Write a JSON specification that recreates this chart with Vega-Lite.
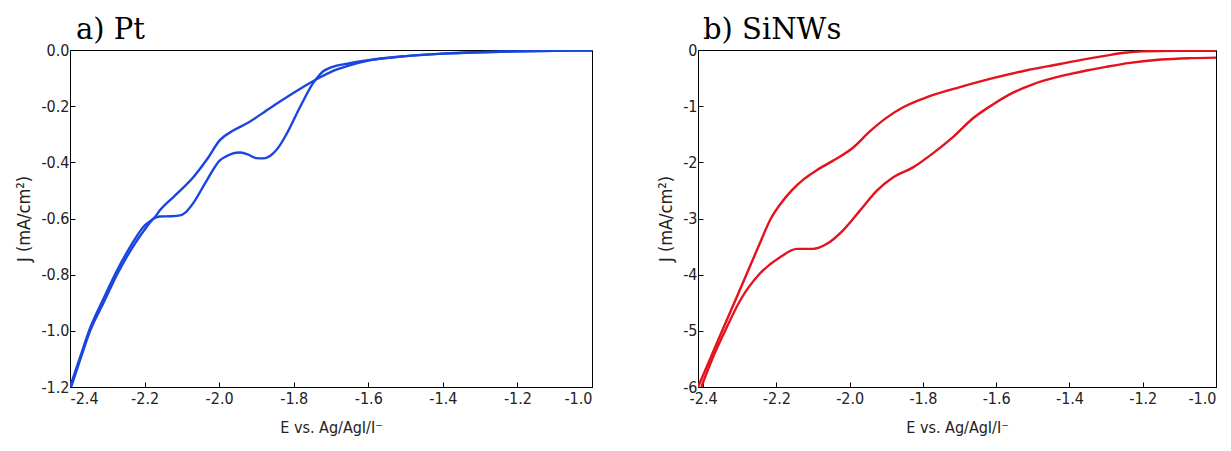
{
  "$schema": "https://vega.github.io/schema/vega-lite/v6.json",
  "background": "white",
  "padding": {"left": 15, "top": 15, "right": 5, "bottom": 5},
  "bounds": "flush",
  "spacing": 106,
  "config": {
    "view": {"stroke": "black", "strokeWidth": 1},
    "axis": {
      "grid": false, "domainColor": "black", "tickColor": "black", "tickSize": -5,
      "labelFont": "DejaVu Sans Condensed, Liberation Sans Narrow, Liberation Sans",
      "labelFontSize": 16, "labelColor": "#222",
      "titleFont": "DejaVu Sans Condensed, Liberation Sans Narrow, Liberation Sans",
      "titleFontSize": 16, "titleFontWeight": "normal", "titleColor": "#222"
    },
    "axisX": {"labelPadding": 8, "titlePadding": 13},
    "axisY": {"labelPadding": 6, "titlePadding": 7, "titleFontSize": 18},
    "title": {"font": "DejaVu Serif", "fontSize": 29, "fontWeight": "normal", "anchor": "start", "frame": "group", "color": "black", "offset": -3}
  },
  "hconcat": [
    {
      "width": 522, "height": 337,
      "title": {"text": "a) Pt", "dx": 6},
      "data": {"values": [
        {"branch": "lower", "E": -1.0, "J": -0.002},
        {"branch": "lower", "E": -1.1, "J": -0.003},
        {"branch": "lower", "E": -1.2, "J": -0.005},
        {"branch": "lower", "E": -1.3, "J": -0.008},
        {"branch": "lower", "E": -1.4, "J": -0.013},
        {"branch": "lower", "E": -1.5, "J": -0.022},
        {"branch": "lower", "E": -1.6, "J": -0.036},
        {"branch": "lower", "E": -1.65, "J": -0.047},
        {"branch": "lower", "E": -1.7, "J": -0.062},
        {"branch": "lower", "E": -1.72, "J": -0.075},
        {"branch": "lower", "E": -1.735, "J": -0.095},
        {"branch": "lower", "E": -1.748, "J": -0.118},
        {"branch": "lower", "E": -1.783, "J": -0.203},
        {"branch": "lower", "E": -1.818, "J": -0.296},
        {"branch": "lower", "E": -1.84, "J": -0.345},
        {"branch": "lower", "E": -1.855, "J": -0.368},
        {"branch": "lower", "E": -1.882, "J": -0.386},
        {"branch": "lower", "E": -1.9, "J": -0.385},
        {"branch": "lower", "E": -1.925, "J": -0.371},
        {"branch": "lower", "E": -1.945, "J": -0.365},
        {"branch": "lower", "E": -1.963, "J": -0.368},
        {"branch": "lower", "E": -1.98, "J": -0.378},
        {"branch": "lower", "E": -1.998, "J": -0.393},
        {"branch": "lower", "E": -2.033, "J": -0.464},
        {"branch": "lower", "E": -2.07, "J": -0.546},
        {"branch": "lower", "E": -2.09, "J": -0.578},
        {"branch": "lower", "E": -2.105, "J": -0.589},
        {"branch": "lower", "E": -2.13, "J": -0.592},
        {"branch": "lower", "E": -2.159, "J": -0.593},
        {"branch": "lower", "E": -2.175, "J": -0.6},
        {"branch": "lower", "E": -2.2, "J": -0.64},
        {"branch": "lower", "E": -2.247, "J": -0.735},
        {"branch": "lower", "E": -2.274, "J": -0.8},
        {"branch": "lower", "E": -2.31, "J": -0.9},
        {"branch": "lower", "E": -2.346, "J": -1.0},
        {"branch": "lower", "E": -2.372, "J": -1.1},
        {"branch": "lower", "E": -2.397, "J": -1.2},
        {"branch": "upper", "E": -2.4, "J": -1.2},
        {"branch": "upper", "E": -2.372, "J": -1.09},
        {"branch": "upper", "E": -2.346, "J": -0.99},
        {"branch": "upper", "E": -2.31, "J": -0.885},
        {"branch": "upper", "E": -2.274, "J": -0.785},
        {"branch": "upper", "E": -2.247, "J": -0.72},
        {"branch": "upper", "E": -2.2, "J": -0.625},
        {"branch": "upper", "E": -2.172, "J": -0.595},
        {"branch": "upper", "E": -2.159, "J": -0.571},
        {"branch": "upper", "E": -2.12, "J": -0.52},
        {"branch": "upper", "E": -2.07, "J": -0.454},
        {"branch": "upper", "E": -2.033, "J": -0.39},
        {"branch": "upper", "E": -1.998, "J": -0.321},
        {"branch": "upper", "E": -1.96, "J": -0.285},
        {"branch": "upper", "E": -1.925, "J": -0.261},
        {"branch": "upper", "E": -1.864, "J": -0.207},
        {"branch": "upper", "E": -1.802, "J": -0.154},
        {"branch": "upper", "E": -1.76, "J": -0.12},
        {"branch": "upper", "E": -1.73, "J": -0.098},
        {"branch": "upper", "E": -1.7, "J": -0.078},
        {"branch": "upper", "E": -1.65, "J": -0.055},
        {"branch": "upper", "E": -1.6, "J": -0.038},
        {"branch": "upper", "E": -1.5, "J": -0.022},
        {"branch": "upper", "E": -1.4, "J": -0.013},
        {"branch": "upper", "E": -1.3, "J": -0.008},
        {"branch": "upper", "E": -1.2, "J": -0.005},
        {"branch": "upper", "E": -1.1, "J": -0.003},
        {"branch": "upper", "E": -1.0, "J": -0.002}
      ]},
      "mark": {"type": "line", "color": "#1a46e0", "strokeWidth": 2.4, "interpolate": "monotone", "clip": true},
      "encoding": {
        "x": {"field": "E", "type": "quantitative",
              "scale": {"domain": [-2.4, -1.0], "nice": false, "zero": false},
              "axis": {"values": [-2.4, -2.2, -2.0, -1.8, -1.6, -1.4, -1.2, -1.0], "format": ".1f",
                       "labelExpr": "replace(datum.label, '\u2212', '-')", "title": "E vs. Ag/AgI/I\u207b"}},
        "y": {"field": "J", "type": "quantitative",
              "scale": {"domain": [-1.2, 0.0], "nice": false, "zero": false},
              "axis": {"values": [-1.2, -1.0, -0.8, -0.6, -0.4, -0.2, 0.0], "format": ".1f",
                       "labelExpr": "replace(datum.label, '\u2212', '-')", "title": "J (mA/cm\u00b2)"}},
        "detail": {"field": "branch"}
      }
    },
    {
      "width": 518, "height": 337,
      "title": {"text": "b) SiNWs", "dx": 5},
      "data": {"values": [
        {"branch": "upper", "E": -2.414, "J": -6.0},
        {"branch": "upper", "E": -2.381, "J": -5.5},
        {"branch": "upper", "E": -2.348, "J": -5.0},
        {"branch": "upper", "E": -2.315, "J": -4.5},
        {"branch": "upper", "E": -2.282, "J": -4.0},
        {"branch": "upper", "E": -2.249, "J": -3.5},
        {"branch": "upper", "E": -2.215, "J": -3.0},
        {"branch": "upper", "E": -2.19, "J": -2.75},
        {"branch": "upper", "E": -2.158, "J": -2.5},
        {"branch": "upper", "E": -2.125, "J": -2.3},
        {"branch": "upper", "E": -2.09, "J": -2.14},
        {"branch": "upper", "E": -2.045, "J": -1.97},
        {"branch": "upper", "E": -1.991, "J": -1.74},
        {"branch": "upper", "E": -1.945, "J": -1.45},
        {"branch": "upper", "E": -1.898, "J": -1.2},
        {"branch": "upper", "E": -1.854, "J": -1.02},
        {"branch": "upper", "E": -1.789, "J": -0.84},
        {"branch": "upper", "E": -1.699, "J": -0.66},
        {"branch": "upper", "E": -1.609, "J": -0.5},
        {"branch": "upper", "E": -1.516, "J": -0.36},
        {"branch": "upper", "E": -1.426, "J": -0.25},
        {"branch": "upper", "E": -1.371, "J": -0.18},
        {"branch": "upper", "E": -1.3, "J": -0.1},
        {"branch": "upper", "E": -1.25, "J": -0.05},
        {"branch": "upper", "E": -1.2, "J": -0.025},
        {"branch": "upper", "E": -1.1, "J": -0.015},
        {"branch": "upper", "E": -1.0, "J": -0.015},
        {"branch": "lower", "E": -2.405, "J": -6.0},
        {"branch": "lower", "E": -2.375, "J": -5.5},
        {"branch": "lower", "E": -2.34, "J": -5.0},
        {"branch": "lower", "E": -2.299, "J": -4.46},
        {"branch": "lower", "E": -2.245, "J": -3.98},
        {"branch": "lower", "E": -2.19, "J": -3.69},
        {"branch": "lower", "E": -2.144, "J": -3.54},
        {"branch": "lower", "E": -2.1, "J": -3.54},
        {"branch": "lower", "E": -2.062, "J": -3.45},
        {"branch": "lower", "E": -2.018, "J": -3.21},
        {"branch": "lower", "E": -1.972, "J": -2.86},
        {"branch": "lower", "E": -1.925, "J": -2.5},
        {"branch": "lower", "E": -1.882, "J": -2.27},
        {"branch": "lower", "E": -1.827, "J": -2.09},
        {"branch": "lower", "E": -1.773, "J": -1.84},
        {"branch": "lower", "E": -1.718, "J": -1.55},
        {"branch": "lower", "E": -1.664, "J": -1.22},
        {"branch": "lower", "E": -1.609, "J": -0.97},
        {"branch": "lower", "E": -1.554, "J": -0.76},
        {"branch": "lower", "E": -1.5, "J": -0.61},
        {"branch": "lower", "E": -1.45, "J": -0.51},
        {"branch": "lower", "E": -1.4, "J": -0.43},
        {"branch": "lower", "E": -1.35, "J": -0.36},
        {"branch": "lower", "E": -1.3, "J": -0.3},
        {"branch": "lower", "E": -1.235, "J": -0.23},
        {"branch": "lower", "E": -1.15, "J": -0.17},
        {"branch": "lower", "E": -1.07, "J": -0.145},
        {"branch": "lower", "E": -1.0, "J": -0.135}
      ]},
      "mark": {"type": "line", "color": "#e4121c", "strokeWidth": 2.4, "interpolate": "monotone", "clip": true},
      "encoding": {
        "x": {"field": "E", "type": "quantitative",
              "scale": {"domain": [-2.414, -1.0], "nice": false, "zero": false},
              "axis": {"values": [-2.4, -2.2, -2.0, -1.8, -1.6, -1.4, -1.2, -1.0], "format": ".1f",
                       "labelExpr": "replace(datum.label, '\u2212', '-')", "title": "E vs. Ag/AgI/I\u207b"}},
        "y": {"field": "J", "type": "quantitative",
              "scale": {"domain": [-6, 0], "nice": false, "zero": false},
              "axis": {"values": [-6, -5, -4, -3, -2, -1, 0], "format": "d",
                       "labelExpr": "replace(datum.label, '\u2212', '-')", "title": "J (mA/cm\u00b2)"}},
        "detail": {"field": "branch"}
      }
    }
  ]
}
